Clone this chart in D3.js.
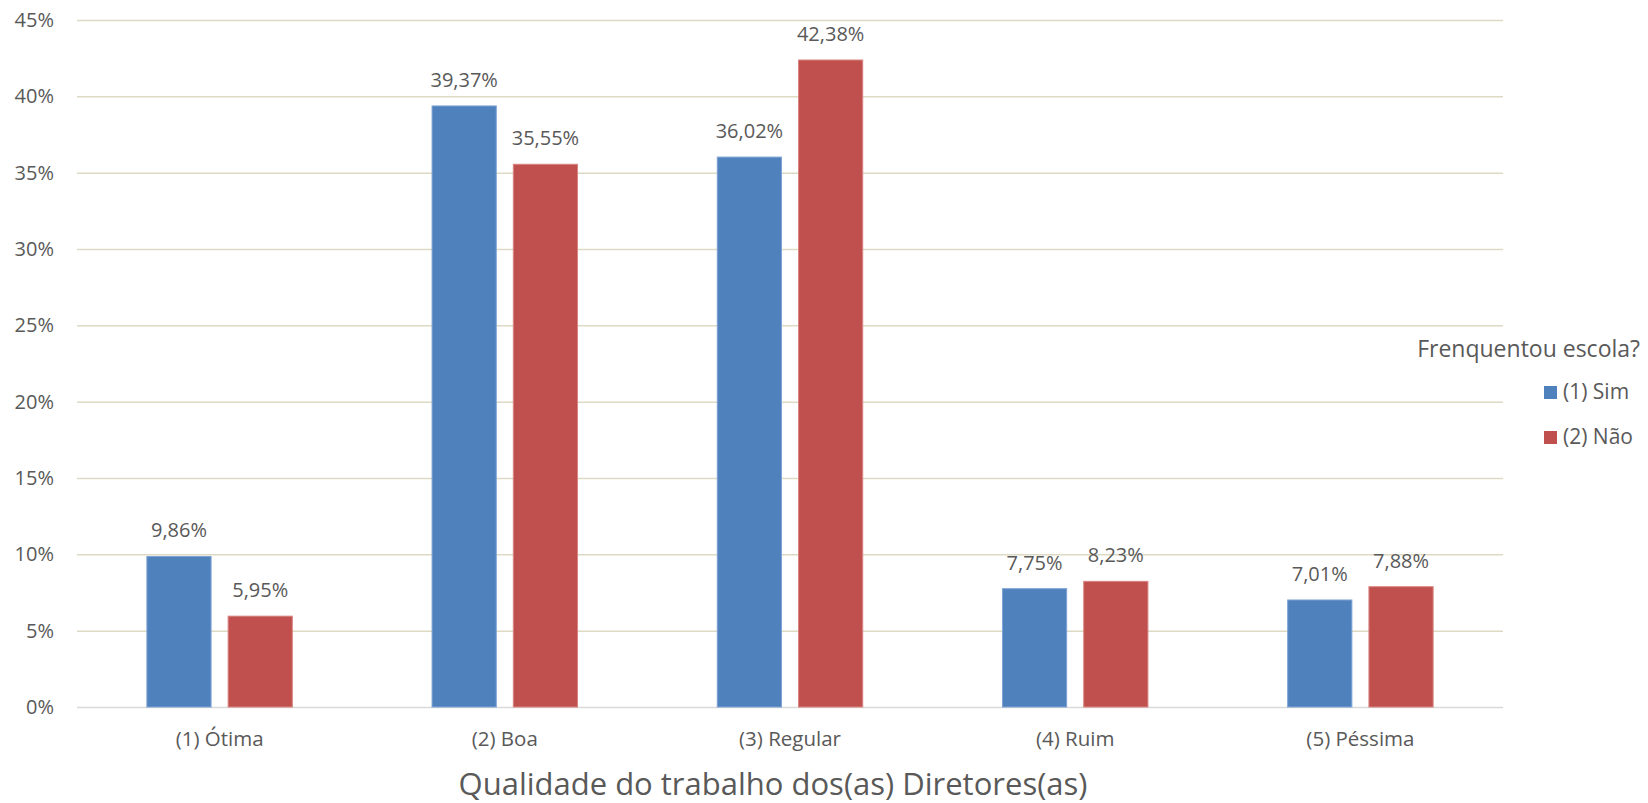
<!DOCTYPE html>
<html>
<head>
<meta charset="utf-8">
<script src="https://cdn.jsdelivr.net/npm/d3@7"></script>
<style>
  body { margin: 0; background: #ffffff; }
  svg text { font-family: "Open Sans", "Noto Sans", sans-serif; fill: #595959; }
</style>
</head>
<body>
<div class="chart"></div>
<script>
// data
const categories = ['(1) Ótima', '(2) Boa', '(3) Regular', '(4) Ruim', '(5) Péssima'];
const seriesNames = ['(1) Sim', '(2) Não'];
const simValues = [9.86, 39.37, 36.02, 7.75, 7.01];
const naoValues = [5.95, 35.55, 42.38, 8.23, 7.88];
const yTicks = [0, 5, 10, 15, 20, 25, 30, 35, 40, 45];
const colors = ['#4f81bd', '#c0504d'];
const strokes = ['#7ea3d4', '#d98481'];

const width = 1648, height = 803;
const margin = { top: 20, right: 145, bottom: 96, left: 77 };

const svg = d3.select('.chart')
              .append('svg')
              .attr('width', width)
              .attr('height', height);

const x0 = d3.scaleBand()
             .domain(categories)
             .range([margin.left, width - margin.right])
             .paddingInner(0.49)
             .paddingOuter(0.245);

const x1 = d3.scaleBand()
             .domain(seriesNames)
             .range([0, x0.bandwidth()])
             .paddingInner(0.21);

const y = d3.scaleLinear()
            .domain([0, 45])
            .range([height - margin.bottom, margin.top]);

// gridlines + y labels
const yAxis = d3.axisLeft(y)
                .tickValues(yTicks)
                .tickSize(-(width - margin.left - margin.right))
                .tickPadding(23)
                .tickFormat(d => d + '%');

const gy = svg.append('g')
              .attr('transform', `translate(${margin.left},0)`)
              .call(yAxis);
gy.select('.domain').remove();
gy.selectAll('.tick line')
  .attr('stroke', d => d === 0 ? '#d9d9d9' : '#ddd9c3')
  .attr('stroke-width', 1.5);
gy.selectAll('.tick text')
  .style('font-size', '20px')
  .attr('fill', '#595959');

// bars
const rows = categories.map((c, i) => ({ cat: c, vals: [simValues[i], naoValues[i]] }));

const groups = svg.selectAll('.cat')
                  .data(rows)
                  .enter()
                  .append('g')
                  .attr('class', 'cat')
                  .attr('transform', d => `translate(${x0(d.cat)},0)`);

groups.selectAll('rect')
      .data(d => d.vals.map((v, j) => ({ s: seriesNames[j], v: v, j: j })))
      .enter()
      .append('rect')
      .attr('x', d => x1(d.s))
      .attr('y', d => y(d.v))
      .attr('width', x1.bandwidth())
      .attr('height', d => y(0) - y(d.v))
      .attr('fill', d => colors[d.j])
      .attr('stroke', d => strokes[d.j])
      .attr('stroke-width', 1);

groups.selectAll('.lbl')
      .data(d => d.vals.map((v, j) => ({ s: seriesNames[j], v: v })))
      .enter()
      .append('text')
      .attr('class', 'lbl')
      .attr('x', d => x1(d.s) + x1.bandwidth() / 2)
      .attr('y', d => y(d.v) - 19)
      .attr('text-anchor', 'middle')
      .style('font-size', '20px')
      .text(d => d.v.toFixed(2).replace('.', ',') + '%');

// category labels
svg.selectAll('.catLabel')
   .data(categories)
   .enter()
   .append('text')
   .attr('class', 'catLabel')
   .attr('x', d => x0(d) + x0.bandwidth() / 2)
   .attr('y', 746)
   .attr('text-anchor', 'middle')
   .style('font-size', '20.5px')
   .text(d => d);

// axis title
svg.append('text')
   .attr('x', 773)
   .attr('y', 795)
   .attr('text-anchor', 'middle')
   .style('font-size', '31px')
   .text('Qualidade do trabalho dos(as) Diretores(as)');

// legend
const legend = svg.append('g').attr('class', 'legend');
legend.append('text')
      .attr('x', 1640)
      .attr('y', 357)
      .attr('text-anchor', 'end')
      .style('font-size', '23px')
      .text('Frenquentou escola?');

const items = legend.selectAll('.item')
                    .data(seriesNames)
                    .enter()
                    .append('g')
                    .attr('class', 'item')
                    .attr('transform', (d, i) => `translate(1544, ${386 + i * 45})`);
items.append('rect')
     .attr('width', 13)
     .attr('height', 13)
     .attr('fill', (d, i) => colors[i]);
items.append('text')
     .attr('x', 19)
     .attr('y', 13)
     .style('font-size', '21px')
     .text(d => d);
</script>
</body>
</html>
